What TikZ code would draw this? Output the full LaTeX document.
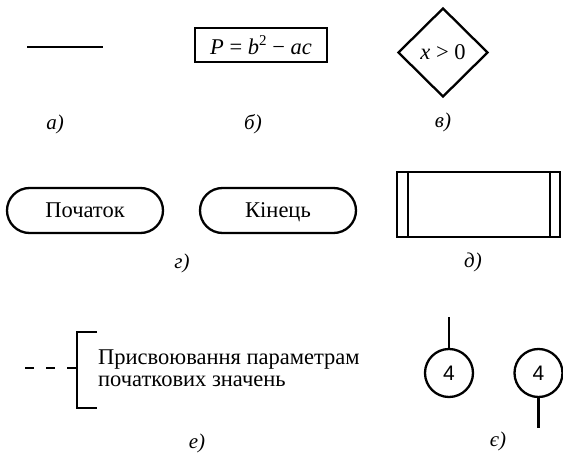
\documentclass[tikz,border=0pt]{standalone}
\usepackage{fontspec}
\setmainfont{Liberation Serif}
\newfontfamily\serifont{Liberation Serif}
\newfontfamily\numfont{Liberation Sans}
\usetikzlibrary{shapes.geometric}
\begin{document}
\begin{tikzpicture}[x=1pt,y=-1pt,
  every node/.style={font=\fontsize{22.5}{22}\selectfont\serifont},
  shapeline/.style={draw,line width=2.3pt},
  capt/.style={font=\fontsize{21}{21}\selectfont\serifont\itshape},
  termbox/.style={shapeline,rectangle,rounded corners=22.5pt,minimum width=156pt,minimum height=45pt,inner sep=0pt,text height=15pt,text depth=0pt},
  connbox/.style={shapeline,circle,minimum size=48pt,inner sep=0pt,font=\fontsize{21}{21}\selectfont\numfont},
  stub/.style={line width=2.3pt}]
\useasboundingbox (0,0) rectangle (563,454);
% a)
\coordinate (a1) at (27,47);
\coordinate (a2) at (103,47);
\draw[stub] (a1) -- (a2);
\node[capt] (la) at (55,124) {а)};
% b)
\node[shapeline,rectangle,minimum width=132pt,minimum height=34pt,inner sep=0pt] (pb) at (261,45)
  {\textit{P} = \textit{b}\raisebox{0.38em}{\fontsize{15}{15}\selectfont 2} − \textit{ac}};
\node[capt] (lb) at (253,124) {б)};
% v)
\node[shapeline,diamond,minimum width=90pt,minimum height=89pt,inner sep=0pt] (dv) at (443,52.5)
  {\textit{x} > 0};
\node[capt] (lv) at (443,122) {в)};
% g)
\node[termbox] (start) at (85,210.5) {Початок};
\node[termbox] (end) at (278,210.5) {Кінець};
\node[capt] (lg) at (182,263) {г)};
% d)
\node[shapeline,rectangle,minimum width=163pt,minimum height=65pt,inner sep=0pt] (pd) at (478.5,204.5) {};
\draw[stub] ([xshift=12pt]pd.north west) -- ([xshift=12pt]pd.south west);
\draw[stub] ([xshift=-11pt]pd.north east) -- ([xshift=-11pt]pd.south east);
\node[capt] (ld) at (473,262) {д)};
% e)
\coordinate (dstart) at (25,368);
\coordinate (btop) at (97,332);
\coordinate (bbot) at (97,408);
\coordinate (bmid) at (77,368);
\draw[stub,dash pattern=on 9pt off 12pt] (dstart) -- (bmid);
\draw[stub] (btop) -- (77,332) -- (77,408) -- (bbot);
\node[anchor=base west,inner sep=0pt] (t1) at (98,365) {Присвоювання параметрам};
\node[anchor=base west,inner sep=0pt] (t2) at (98,387) {початкових значень};
\node[capt] (le) at (197,443) {е)};
% ye)
\node[connbox] (c1) at (449,373) {4};
\coordinate (c1top) at (449,317);
\draw[stub] (c1.north) -- (c1top);
\node[connbox] (c2) at (538.5,373) {4};
\coordinate (c2bot) at (538.5,428);
\draw[stub] (c2.south) -- (c2bot);
\node[capt] (lye) at (498,441) {є)};
\end{tikzpicture}
\end{document}
